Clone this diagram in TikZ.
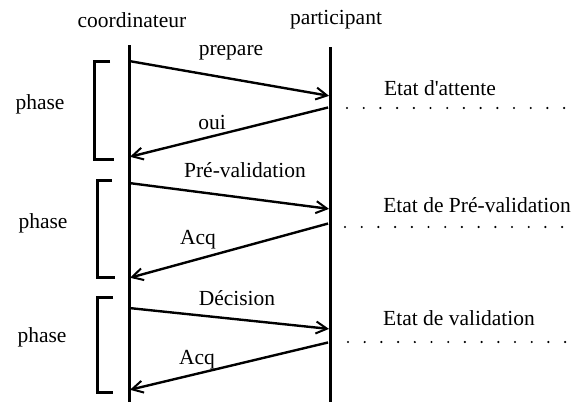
\documentclass[tikz,border=0pt]{standalone}
\usepackage{fontspec}
\setmainfont{Liberation Serif}
\usetikzlibrary{arrows.meta}
\begin{document}
\begin{tikzpicture}[x=1pt,y=-1pt,
  lifeline/.style={line width=3pt},
  msg/.style={line width=2.4pt,-{Straight Barb[length=11pt,width=12pt,line width=2pt]},shorten >=1pt,shorten <=2pt},
  phasebracket/.style={line width=3pt},
  waitdots/.style={line width=2.4pt,line cap=round,dash pattern=on 0pt off 16.7pt},
  lbl/.style={font=\fontsize{21.5}{24}\selectfont,inner sep=0pt}]
\useasboundingbox (0,0) rectangle (577,402);
% actors
\node[lbl] (coord) at (132,20) {coordinateur};
\node[lbl] (part) at (336,20) {participant};
% lifelines
\coordinate (c0) at (129,45);
\coordinate (cE) at (129,402);
\coordinate (p0) at (330,47);
\coordinate (pE) at (330,402);
\draw[lifeline] (c0) -- (cE);
\draw[lifeline] (p0) -- (pE);
% message anchors on the lifelines
\coordinate (c1) at (129,61);  \coordinate (p1) at (330,96);
\coordinate (p2) at (330,107); \coordinate (c2) at (129,157);
\coordinate (c3) at (129,183); \coordinate (p3) at (330,209);
\coordinate (p4) at (330,223); \coordinate (c4) at (129,278);
\coordinate (c5) at (129,308); \coordinate (p5) at (330,329);
\coordinate (p6) at (330,342); \coordinate (c6) at (129,390);
% messages
\draw[msg] (c1) -- (p1);
\draw[msg] (p2) -- (c2);
\draw[msg] (c3) -- (p3);
\draw[msg] (p4) -- (c4);
\draw[msg] (c5) -- (p5);
\draw[msg] (p6) -- (c6);
\node[lbl] (m1) at (231,53) {prepare};
\node[lbl] (m2) at (212,122) {oui};
\node[lbl] (m3) at (245,170) {Pré-validation};
\node[lbl] (m4) at (198,240) {Acq};
\node[lbl] (m5) at (237,298) {Décision};
\node[lbl] (m6) at (197,360) {Acq};
% phase brackets
\draw[phasebracket] (110,61) -- (94,61) -- (94,159) -- (114,159);
\draw[phasebracket] (112,180) -- (97,180) -- (97,277) -- (115,277);
\draw[phasebracket] (113,297) -- (97,297) -- (97,392) -- (113,392);
\node[lbl] (ph1) at (40,104) {phase};
\node[lbl] (ph2) at (43,223) {phase};
\node[lbl] (ph3) at (42,337) {phase};
% participant states
\node[lbl] (s1) at (440,88) {Etat d\textquotesingle attente};
\node[lbl] (s2) at (477,205) {Etat de Pré-validation};
\node[lbl] (s3) at (459,318) {Etat de validation};
\coordinate (d1a) at (347,108); \coordinate (d1b) at (566,108);
\coordinate (d2a) at (345,227); \coordinate (d2b) at (566,227);
\coordinate (d3a) at (348,342); \coordinate (d3b) at (566,342);
\draw[waitdots] (d1a) -- (d1b);
\draw[waitdots] (d2a) -- (d2b);
\draw[waitdots] (d3a) -- (d3b);
\end{tikzpicture}
\end{document}
